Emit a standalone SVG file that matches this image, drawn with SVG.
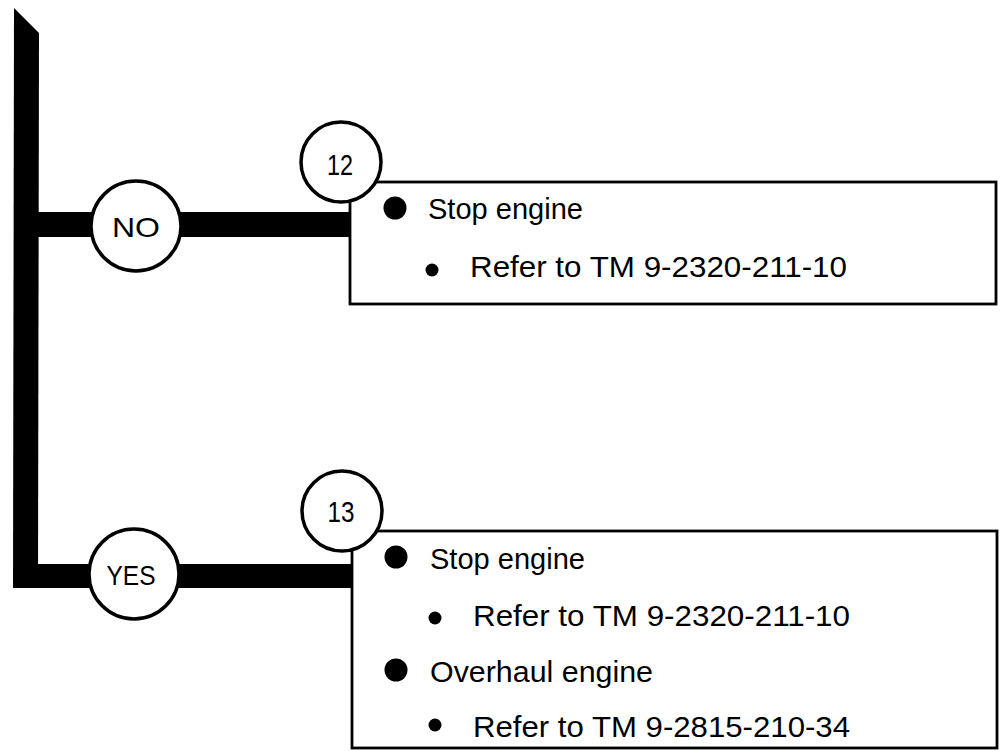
<svg xmlns="http://www.w3.org/2000/svg" width="1008" height="751" viewBox="0 0 1008 751">
<style>
.bar{fill:#000;stroke:none}
.box{fill:#fff;stroke:#000;stroke-width:2.8}
.circ{fill:#fff;stroke:#000;stroke-width:3.5}
.lbl{font-family:"Liberation Sans",Arial,sans-serif;font-size:28px;fill:#000;text-anchor:middle}
.num{font-family:"Liberation Sans",Arial,sans-serif;font-size:30px;fill:#000;text-anchor:middle}
.txt{font-family:"Liberation Sans",Arial,sans-serif;font-size:29px;fill:#000}
.dot{fill:#000}
</style>
<rect width="1008" height="751" fill="#fff"/>
<g id="connectors">
<polygon class="bar" points="14,8 39,33 38,588 13,588"/>
<rect class="bar" x="38" y="212" width="313" height="25"/>
<rect class="bar" x="30" y="564" width="323" height="24"/>
</g>
<g id="box12">
<rect class="box" x="350" y="182" width="646" height="122"/>
<circle class="dot" cx="395" cy="208" r="11.5"/>
<text class="txt" x="428" y="219" textLength="155" lengthAdjust="spacingAndGlyphs">Stop engine</text>
<circle class="dot" cx="432" cy="270" r="6.5"/>
<text class="txt" x="470" y="277" textLength="377" lengthAdjust="spacingAndGlyphs">Refer to TM 9-2320-211-10</text>
</g>
<g id="box13">
<rect class="box" x="352" y="531" width="645" height="217"/>
<circle class="dot" cx="396" cy="557" r="11.5"/>
<text class="txt" x="430" y="569" textLength="155" lengthAdjust="spacingAndGlyphs">Stop engine</text>
<circle class="dot" cx="435" cy="618" r="6.5"/>
<text class="txt" x="473" y="626" textLength="377" lengthAdjust="spacingAndGlyphs">Refer to TM 9-2320-211-10</text>
<circle class="dot" cx="396" cy="670" r="11.5"/>
<text class="txt" x="430" y="682" textLength="223" lengthAdjust="spacingAndGlyphs">Overhaul engine</text>
<circle class="dot" cx="435" cy="725" r="6.5"/>
<text class="txt" x="473" y="737" textLength="377" lengthAdjust="spacingAndGlyphs">Refer to TM 9-2815-210-34</text>
</g>
<g id="step12">
<circle class="circ" cx="341" cy="162" r="40"/>
<text class="num" x="340" y="175" textLength="26" lengthAdjust="spacingAndGlyphs">12</text>
</g>
<g id="step13">
<circle class="circ" cx="342" cy="511" r="40"/>
<text class="num" x="341" y="522" textLength="27" lengthAdjust="spacingAndGlyphs">13</text>
</g>
<g id="no">
<circle class="circ" cx="136" cy="226" r="45"/>
<text class="lbl" x="136" y="237" textLength="48" lengthAdjust="spacingAndGlyphs">NO</text>
</g>
<g id="yes">
<circle class="circ" cx="134" cy="574" r="45"/>
<text class="lbl" x="131" y="585" textLength="49" lengthAdjust="spacingAndGlyphs">YES</text>
</g>
</svg>
